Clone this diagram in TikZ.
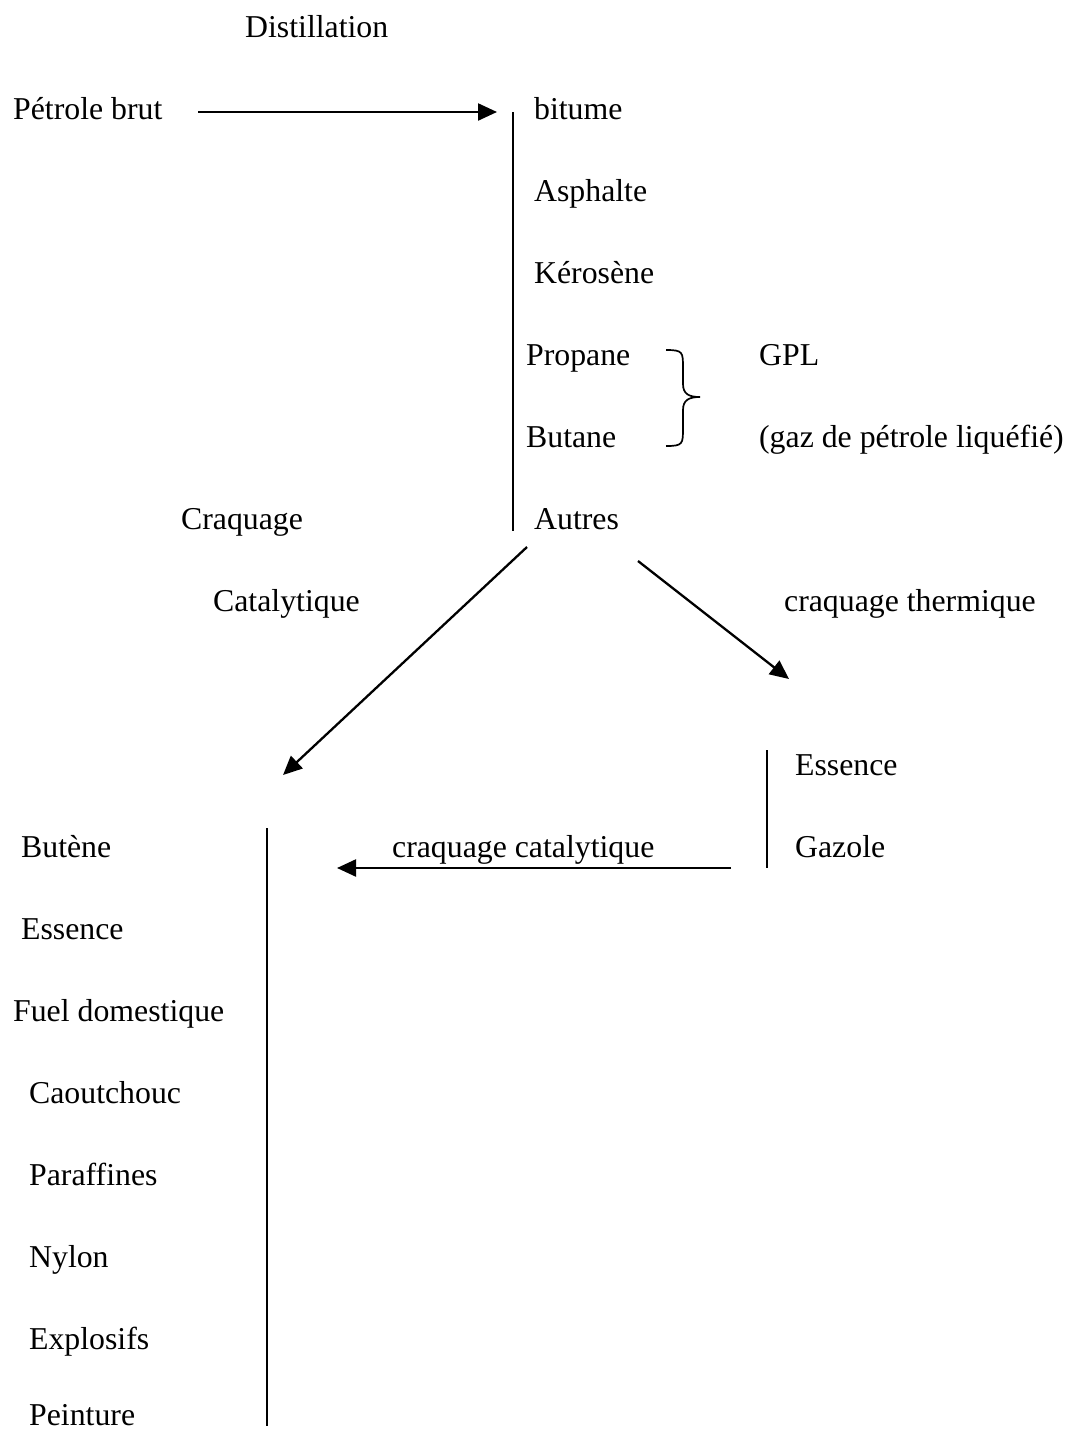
\documentclass[tikz,border=0pt]{standalone}
\usepackage{fontspec}
\setmainfont{Liberation Serif}
\usetikzlibrary{arrows.meta}

\begin{document}
\begin{tikzpicture}[x=1pt,y=-1pt,>={Triangle[length=19pt,width=17pt]},line width=2.3pt,
    every node/.style={font=\fontsize{31.8}{38}\selectfont,anchor=base west,inner sep=0pt}]
    \useasboundingbox (0,0) rectangle (1066,1430);

    % distillation
    \node (dist) at (244,37) {Distillation};
    \node (brut) at (12,119) {Pétrole brut};
    \node (bitume) at (533,119) {bitume};
    \node (asph) at (533,201) {Asphalte};
    \node (kero) at (533,283) {Kérosène};
    \node (prop) at (525,365) {Propane};
    \node (but) at (525,447) {Butane};
    \node (autres) at (533,529) {Autres};
    \node (gpl) at (758,365) {GPL};
    \node (gpl2) at (758,447) {(gaz de pétrole liquéfié)};

    \coordinate (d0) at (198,112);
    \coordinate (d1) at (497,112);
    \draw[->] (d0)--(d1);
    \coordinate (col0) at (513,112);
    \coordinate (col1) at (513,531);
    \draw (col0)--(col1);

    \draw[line width=1.7pt] (666,350) .. controls (683,350) and (683,352) .. (683,368) -- (683,384)
        .. controls (683,394) and (689,397) .. (700,397)
        .. controls (689,397) and (683,400) .. (683,410) -- (683,428)
        .. controls (683,444) and (683,446) .. (666,446);

    % craquage
    \node (craq) at (180,529) {Craquage};
    \node (cata) at (212,611) {Catalytique};
    \node (therm) at (783,611) {craquage thermique};

    \coordinate (ca0) at (527,547);
    \coordinate (ca1) at (283,775);
    \coordinate (th0) at (638,561);
    \coordinate (th1) at (789,679);
    \draw[->] (ca0)--(ca1);
    \draw[->] (th0)--(th1);

    \node (ess1) at (794,775) {Essence};
    \node (gaz) at (794,857) {Gazole};
    \coordinate (g0) at (767,750);
    \coordinate (g1) at (767,868);
    \draw (g0)--(g1);

    \node (cc) at (391,857) {craquage catalytique};
    \coordinate (cc0) at (731,868);
    \coordinate (cc1) at (337,868);
    \draw[->] (cc0)--(cc1);

    % produits
    \node (butene) at (20,857) {Butène};
    \node (ess2) at (20,939) {Essence};
    \node (fuel) at (12,1021) {Fuel domestique};
    \node (caout) at (28,1103) {Caoutchouc};
    \node (paraf) at (28,1185) {Paraffines};
    \node (nylon) at (28,1267) {Nylon};
    \node (explo) at (28,1349) {Explosifs};
    \node (peint) at (28,1425) {Peinture};
    \coordinate (p0) at (267,828);
    \coordinate (p1) at (267,1426);
    \draw (p0)--(p1);
\end{tikzpicture}
\end{document}
